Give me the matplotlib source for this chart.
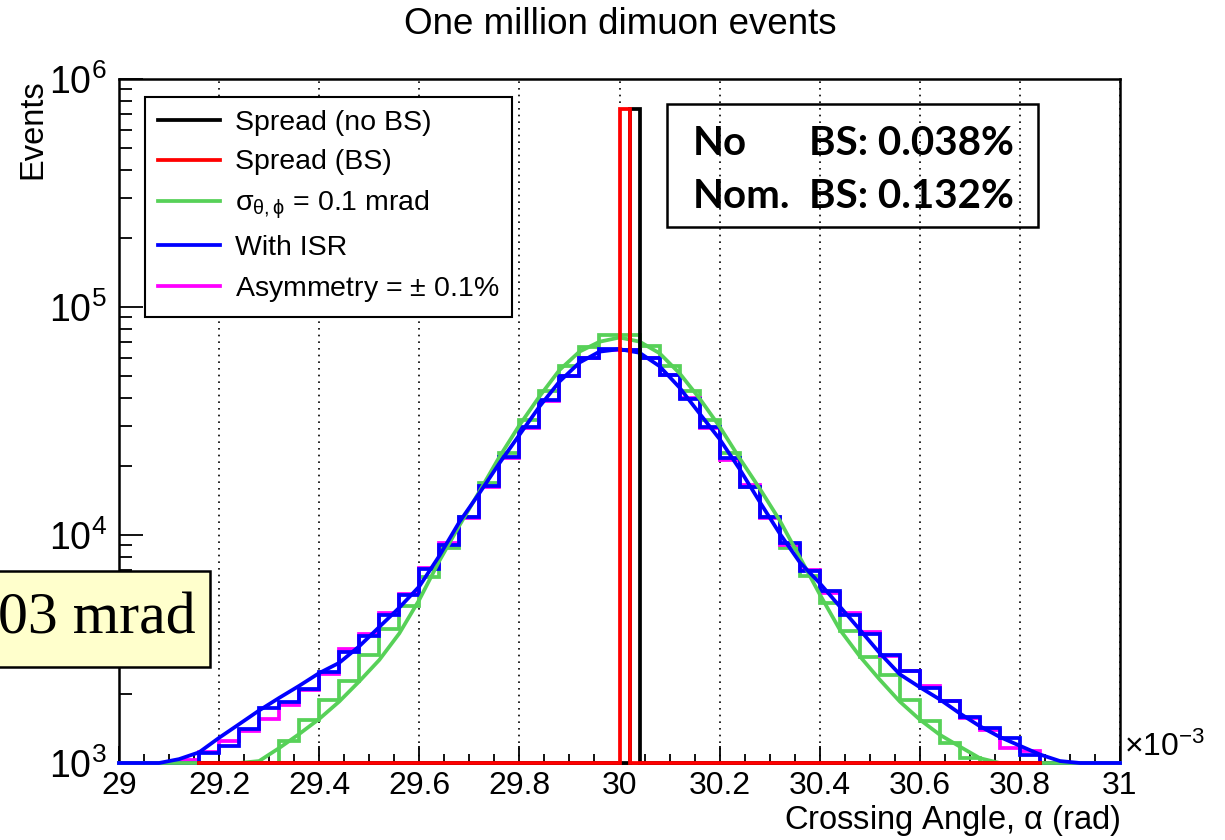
import numpy as np
import matplotlib
matplotlib.use('Agg')
import matplotlib.pyplot as plt
from matplotlib.lines import Line2D
from matplotlib.patches import Rectangle
from matplotlib.ticker import LogLocator, MultipleLocator, FuncFormatter, NullFormatter

# histogram binning (x in units of 1e-3 rad)
bin_lo = 29.0
bin_w = 0.04
y_min = 1e3

# "With ISR" histogram (blue), 50 bins
isr_counts = [0, 0, 0, 0, 1106, 1183, 1409, 1742, 1846, 2118,
              2500, 3053, 3616, 4476, 5471, 7100, 9040, 11970, 16440, 22030,
              29870, 39080, 50010, 59990, 65130, 65000, 60000, 50350, 39450, 29870,
              21680, 16290, 12030, 9250, 6940, 5665, 4475, 3680, 2986, 2541,
              2134, 1862, 1591, 1425, 1287, 1088, 0, 0, 0, 0]

# "Asymmetry" histogram (magenta)
asym_counts = [0, 0, 0, 1034, 1120, 1245, 1377, 1560, 1800, 2100,
               2465, 3160, 3680, 4540, 5500, 7150, 9250, 11900, 16300, 21800,
               29500, 38700, 49800, 59800, 65000, 65000, 59800, 50500, 39800, 29500,
               21300, 16500, 11900, 9040, 7000, 5550, 4550, 3750, 2950, 2520,
               2172, 1862, 1570, 1400, 1163, 1125, 0, 0, 0, 0]

# sigma = 0.1 mrad histogram (green)
sigma_counts = [0, 0, 0, 0, 0, 0, 0, 0, 1245, 1549,
                1896, 2281, 2986, 3872, 4898, 6516, 8800, 12000, 16870, 22900,
                31900, 42850, 55080, 66990, 75340, 75340, 67500, 55000, 42850, 32100,
                22900, 16200, 12000, 8800, 6590, 5030, 3776, 2903, 2426, 1896,
                1524, 1224, 1052, 0, 0, 0, 0, 0, 0, 0]

# fitted curves
sigma_fit_x = [29.00, 29.20, 29.24, 29.28, 29.32, 29.36, 29.40, 29.44, 29.48, 29.52,
               29.56, 29.60, 29.64, 29.68, 29.72, 29.76, 29.80, 29.84, 29.88, 29.92,
               29.96, 30.00, 30.04, 30.08, 30.12, 30.16, 30.20, 30.24, 30.28, 30.32,
               30.36, 30.40, 30.44, 30.48, 30.52, 30.56, 30.60, 30.64, 30.68, 30.72,
               30.76, 30.80, 31.00]
sigma_fit_y = [600, 880, 950, 1020, 1163, 1340, 1560, 1860, 2280, 2830,
               3700, 5200, 7700, 11000, 15500, 22000, 30300, 40500, 52900, 63700,
               70400, 73500, 70500, 62700, 51200, 39700, 29900, 21700, 16000, 11600,
               8000, 5500, 3850, 2940, 2320, 1860, 1550, 1330, 1180, 1050,
               960, 900, 600]

isr_fit_x = [29.00, 29.04, 29.08, 29.12, 29.16, 29.20, 29.24, 29.28, 29.32, 29.36,
             29.40, 29.44, 29.48, 29.52, 29.56, 29.60, 29.64, 29.68, 29.72, 29.76,
             29.80, 29.84, 29.88, 29.92, 29.96, 30.00, 30.04, 30.08, 30.12, 30.16,
             30.20, 30.24, 30.28, 30.32, 30.36, 30.40, 30.44, 30.48, 30.52, 30.56,
             30.60, 30.64, 30.68, 30.72, 30.76, 30.80, 30.84, 30.88, 30.92, 30.96, 31.00]
isr_fit_y = [700, 800, 920, 1040, 1114, 1290, 1480, 1700, 1930, 2180,
             2480, 2750, 3250, 3950, 4800, 5950, 8100, 11400, 15250, 20640,
             27480, 36560, 47080, 57030, 63700, 65300, 63000, 55000, 44300, 34100,
             26350, 19460, 14000, 10160, 7600, 6150, 4864, 3846, 3034, 2450,
             2150, 1900, 1650, 1450, 1300, 1190, 1090, 1020, 950, 880, 800]

# beam spread spikes
nobs_edges = [29.16, 30.02, 30.04, 30.84]
nobs_counts = [0, 736000, 0]
bs_edges = [29.16, 30.00, 30.02, 30.84]
bs_counts = [0, 738000, 0]

legend_labels = ['Spread (no BS)', 'Spread (BS)', r'$\sigma_{\theta,\phi}$ = 0.1 mrad',
                 'With ISR', 'Asymmetry = $\\pm$ 0.1%']
colors = ['black', '#ff0000', '#57d158', '#0000ff', '#ff00ff']

W, H = 1225, 840
plt.rcParams['font.family'] = ['Liberation Sans', 'DejaVu Sans']
plt.rcParams['mathtext.fontset'] = 'custom'
plt.rcParams['mathtext.rm'] = 'Liberation Sans'
plt.rcParams['mathtext.it'] = 'Liberation Sans:italic'
plt.rcParams['mathtext.default'] = 'regular'


def fx(x):
    return x / W


def fy(y):
    return 1 - y / H


def draw_hist(ax, edges, counts, color, zo):
    edges = np.asarray(edges, dtype=float)
    vals = np.maximum(np.asarray(counts, dtype=float), y_min)
    xs = np.repeat(edges, 2)
    ys = np.concatenate([[y_min], np.repeat(vals, 2), [y_min]])
    ax.plot(xs, ys, color=color, lw=2.7, zorder=zo, clip_on=False,
            solid_joinstyle='miter')


fig = plt.figure(figsize=(W / 100, H / 100), dpi=100)
ax = fig.add_axes([fx(119), fy(763), fx(1120) - fx(119), fy(79) - fy(763)])

edges = bin_lo + bin_w * np.arange(len(isr_counts) + 1)
draw_hist(ax, edges, sigma_counts, colors[2], 3)
draw_hist(ax, edges, asym_counts, colors[4], 4)
draw_hist(ax, edges, isr_counts, colors[3], 5)
ax.plot(sigma_fit_x, np.maximum(sigma_fit_y, y_min), color=colors[2], lw=2.7, zorder=6, clip_on=False)
ax.plot(isr_fit_x, np.maximum(isr_fit_y, y_min), color=colors[3], lw=2.7, zorder=7, clip_on=False)
draw_hist(ax, nobs_edges, nobs_counts, colors[0], 8)
draw_hist(ax, bs_edges, bs_counts, colors[1], 9)

ax.set_yscale('log')
ax.set_xlim(29, 31)
ax.set_ylim(1e3, 1e6)
ax.xaxis.set_major_locator(MultipleLocator(0.2))
ax.xaxis.set_minor_locator(MultipleLocator(0.05))
ax.xaxis.set_major_formatter(FuncFormatter(lambda v, p: '%g' % round(v, 2)))
ax.yaxis.set_major_locator(LogLocator(base=10, numticks=10))
ax.yaxis.set_minor_locator(LogLocator(base=10, subs=np.arange(2, 10), numticks=20))
ax.yaxis.set_minor_formatter(NullFormatter())
ax.tick_params(axis='x', which='major', direction='in', length=12, width=1.3, labelsize=23, pad=6)
ax.tick_params(axis='x', which='minor', direction='in', length=6.5, width=1.3)
ax.tick_params(axis='y', which='major', direction='in', length=17, width=1.3, labelsize=27, pad=9)
ax.tick_params(axis='y', which='minor', direction='in', length=9, width=1.3)
for s in ax.spines.values():
    s.set_linewidth(1.8)
ax.grid(axis='x', which='major', color='black', linestyle=(0, (1, 3)), lw=1.2, zorder=1)

ax.set_xlabel(r'Crossing Angle, $\alpha$ (rad)', fontsize=23.5, loc='right', labelpad=1)
ax.set_ylabel('Events', fontsize=23.5, loc='top', labelpad=0)
ax.text(1.004, 0.0, r'$\times10^{-3}$', transform=ax.transAxes, fontsize=23,
        ha='left', va='bottom')
fig.text(fx(620), fy(25), 'One million dimuon events', fontsize=26.5, ha='center', va='center')

handles = [Line2D([], [], color=c, lw=2.7) for c in colors]
leg = ax.legend(handles, legend_labels, loc='upper left', fontsize=20.5,
                bbox_to_anchor=(fx(145), fy(97)), bbox_transform=fig.transFigure,
                frameon=True, fancybox=False, edgecolor='black', framealpha=1,
                handlelength=2.2, handletextpad=0.5, labelspacing=0.48,
                borderpad=0.45, borderaxespad=0)
leg.get_frame().set_linewidth(1.5)
leg.set_zorder(20)

# result box
ax.add_artist(Rectangle((fx(667), fy(227)), fx(1038) - fx(667), fy(104) - fy(227),
                        transform=fig.transFigure, fill=False, edgecolor='black',
                        lw=1.8, zorder=21))
box_font = dict(fontsize=29, fontweight='bold', family='Lato', va='baseline', ha='left')
fig.text(fx(693), fy(155), 'No', **box_font)
fig.text(fx(809), fy(155), 'BS: 0.038%', **box_font)
fig.text(fx(693), fy(208), 'Nom.', **box_font)
fig.text(fx(809), fy(208), 'BS: 0.132%', **box_font)

# pasted label box on the left
fig.add_artist(Rectangle((fx(-10), fy(667)), fx(220), fy(571) - fy(667),
                         transform=fig.transFigure, facecolor='#ffffcc',
                         edgecolor='black', lw=1.8, zorder=30))
fig.text(fx(-2), fy(633), '03 mrad', fontsize=43, family='Liberation Serif',
         ha='left', va='baseline', zorder=31)

fig.savefig('out.png', dpi=100)
